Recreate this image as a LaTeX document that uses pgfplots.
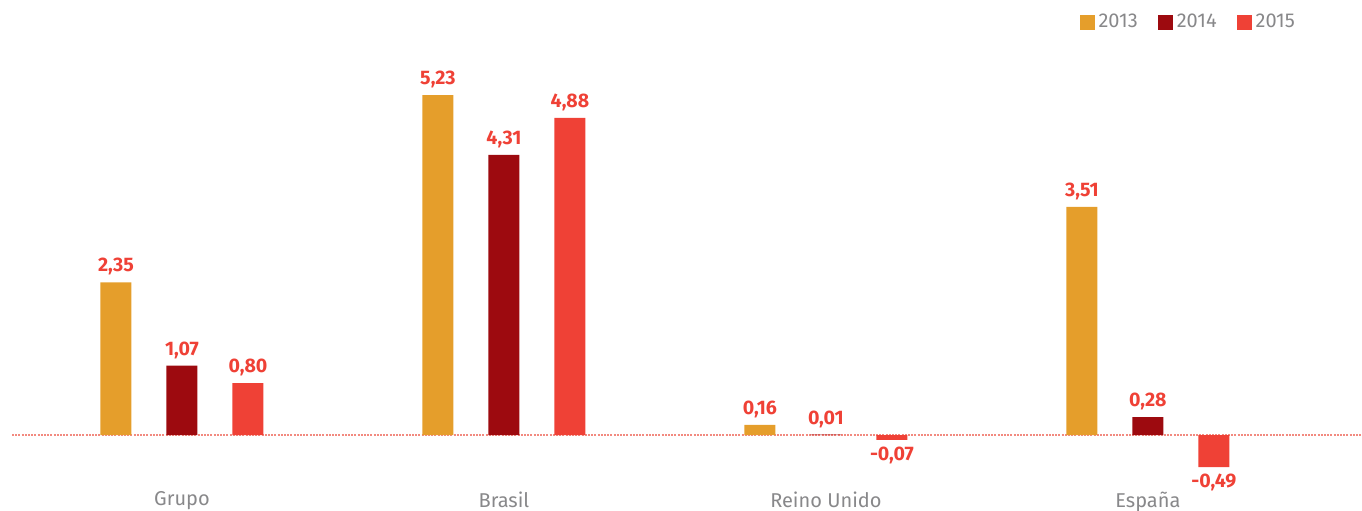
\documentclass[border=0pt]{standalone}
\usepackage{pgfplots}
\pgfplotsset{compat=1.18}
\usepackage{fontspec}
\setmainfont{Fira Sans}
\definecolor{c13}{HTML}{E59E2B}
\definecolor{c14}{HTML}{9D0A0F}
\definecolor{c15}{HTML}{EF4136}
\definecolor{lbl}{HTML}{EF4136}
\definecolor{gry}{HTML}{88888A}
\definecolor{zl}{HTML}{F28A80}
\begin{document}
\begin{tikzpicture}
\begin{axis}[
  scale only axis,
  width=675pt, height=205.5pt,
  xmin=-0.528, xmax=3.665,
  ymin=-0.55, ymax=5.77,
  ybar, bar width=15.5pt,
  axis line style={draw=none},
  tick style={draw=none},
  ytick=\empty,
  xtick={0,1,2,3},
  xticklabels={Grupo,Brasil,Reino Unido,España},
  xticklabel style={font=\fontsize{10}{12}\selectfont, text=gry, yshift=-2.5pt},
  nodes near coords,
  nodes near coords style={font=\bfseries\fontsize{9.8}{11}\selectfont, text=lbl},
  /pgf/number format/.cd, fixed, fixed zerofill, precision=2, use comma, assume math mode=true,
  /pgfplots/.cd,
  legend style={draw=none, at={(0.958,1.092)}, anchor=east, legend columns=-1,
    font=\fontsize{10}{12}\selectfont, text=gry,
    /tikz/every odd column/.append style={column sep=0pt},
    /tikz/every even column/.append style={column sep=8pt}},
  legend image code/.code={\fill[#1] (0pt,-3.75pt) rectangle (7.5pt,3.75pt);},
]
\draw[draw=zl, line width=0.8pt, dash pattern=on 1pt off 0.6pt] (axis cs:-0.528,0) -- (axis cs:3.665,0);
\addplot[fill=c13, draw=none, bar shift=-33pt] coordinates {(0,2.35) (1,5.23) (2,0.16) (3,3.51)};
\addplot[fill=c14, draw=none, bar shift=0pt] coordinates {(0,1.07) (1,4.31) (2,0.01) (3,0.28)};
\addplot[fill=c15, draw=none, bar shift=33pt] coordinates {(0,0.80) (1,4.88) (2,-0.07) (3,-0.49)};
\legend{2013,2014,2015}
\coordinate (bl) at (rel axis cs:0,0);
\end{axis}
\pgfresetboundingbox
\path[use as bounding box] ([shift={(-6pt,-19.5pt)}]bl) rectangle ++(681pt,255pt);
\end{tikzpicture}
\end{document}
